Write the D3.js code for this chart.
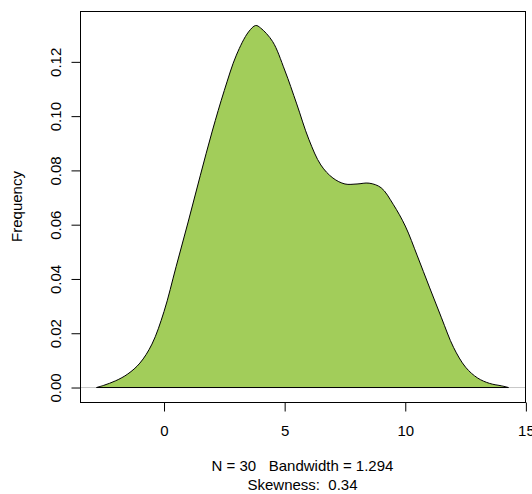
<!DOCTYPE html>
<html>
<head>
<meta charset="utf-8">
<script src="https://cdn.jsdelivr.net/npm/d3@7"></script>
<style>
  body { margin: 0; background: #fff; }
  svg text { font-family: "Liberation Sans", Arial, sans-serif; fill: #000; white-space: pre; }
</style>
</head>
<body>
<div id="chart"></div>
<script>
// density estimate
const xs = [-2.8, -2.5, -2.0, -1.5, -1.0, -0.5, 0, 0.5, 1.0, 1.5, 2.0, 2.5, 3.0, 3.5, 3.8, 4.0,
            4.5, 5.0, 5.5, 6.0, 6.5, 7.0, 7.5, 8.0, 8.5, 9.0, 9.5, 10.0, 10.5, 11.0, 11.5,
            12.0, 12.5, 13.0, 13.5, 14.0, 14.28];
const dens = [0, 0.0008, 0.0025, 0.005, 0.009, 0.016, 0.028, 0.0445, 0.061, 0.078, 0.0945, 0.1095,
              0.1225, 0.131, 0.1334, 0.1325, 0.1275, 0.117, 0.1045, 0.0915, 0.082, 0.0772, 0.0750,
              0.0750, 0.0753, 0.0736, 0.0675, 0.0595, 0.0485, 0.037, 0.0257, 0.0148, 0.0075,
              0.0035, 0.0015, 0.0006, 0];

const xTicks = [0, 5, 10, 15];
const yTicks = [0, 0.02, 0.04, 0.06, 0.08, 0.10, 0.12];
const xLabel = "N = 30   Bandwidth = 1.294";
const subLabel = "Skewness:  0.34";
const yLabel = "Frequency";

const width = 532, height = 494;
const margin = {top: 11, right: 7, bottom: 92, left: 80};
const pw = width - margin.left - margin.right,
      ph = height - margin.top - margin.bottom;

const data = xs.map((x, i) => ({x: x, y: dens[i]}));

// R style 4% padding on both axes
const xr = d3.extent(xs), yr = [0, d3.max(dens)];
const xpad = (xr[1] - xr[0]) * 0.04, ypad = (yr[1] - yr[0]) * 0.04;

const x = d3.scaleLinear().domain([xr[0] - xpad, xr[1] + xpad]).range([0, pw]);
const y = d3.scaleLinear().domain([yr[0] - ypad, yr[1] + ypad]).range([ph, 0]);

const svg = d3.select("#chart").append("svg")
    .attr("width", width)
    .attr("height", height);

const g = svg.append("g")
    .attr("transform", "translate(" + margin.left + "," + margin.top + ")");

// zero line
g.append("line")
    .attr("x1", 0).attr("x2", pw)
    .attr("y1", y(0)).attr("y2", y(0))
    .attr("stroke", "#c8c8c8")
    .attr("stroke-width", 1);

const line = d3.line()
    .x(d => x(d.x))
    .y(d => Math.min(y(d.y), y(0)))
    .curve(d3.curveCatmullRom.alpha(0.5));

g.append("path")
    .attr("d", line(data) + "Z")
    .attr("fill", "#A2CD5A")
    .attr("stroke", "#000")
    .attr("stroke-width", 1);

// box
g.append("rect")
    .attr("x", 0.5).attr("y", 0.5)
    .attr("width", pw).attr("height", ph)
    .attr("fill", "none")
    .attr("stroke", "#000")
    .attr("stroke-width", 1);

// x axis
const xAxis = d3.axisBottom(x).tickValues(xTicks).tickSize(9).tickPadding(14).tickFormat(d3.format("d"));
const gx = g.append("g")
    .attr("transform", "translate(0," + (ph + 0.5) + ")")
    .call(xAxis);
gx.select(".domain").remove();
gx.selectAll("text").attr("font-size", 15).attr("font-family", null);

// y axis
const yAxis = d3.axisLeft(y).tickValues(yTicks).tickSize(9).tickFormat(d3.format(".2f"));
const gy = g.append("g")
    .attr("transform", "translate(0.5,0)")
    .call(yAxis);
gy.select(".domain").remove();
gy.selectAll(".tick text")
    .attr("font-size", 15)
    .attr("font-family", null)
    .attr("x", null).attr("dy", null)
    .attr("text-anchor", "middle")
    .attr("transform", "translate(-20,0) rotate(-90)");

svg.append("text")
    .attr("x", margin.left + pw / 2)
    .attr("y", 471)
    .attr("text-anchor", "middle")
    .attr("font-size", 15)
    .text(xLabel);

svg.append("text")
    .attr("x", margin.left + pw / 2)
    .attr("y", 490)
    .attr("text-anchor", "middle")
    .attr("font-size", 15)
    .text(subLabel);

svg.append("text")
    .attr("transform", "translate(22," + (margin.top + ph / 2) + ") rotate(-90)")
    .attr("text-anchor", "middle")
    .attr("font-size", 15)
    .text(yLabel);
</script>
</body>
</html>
